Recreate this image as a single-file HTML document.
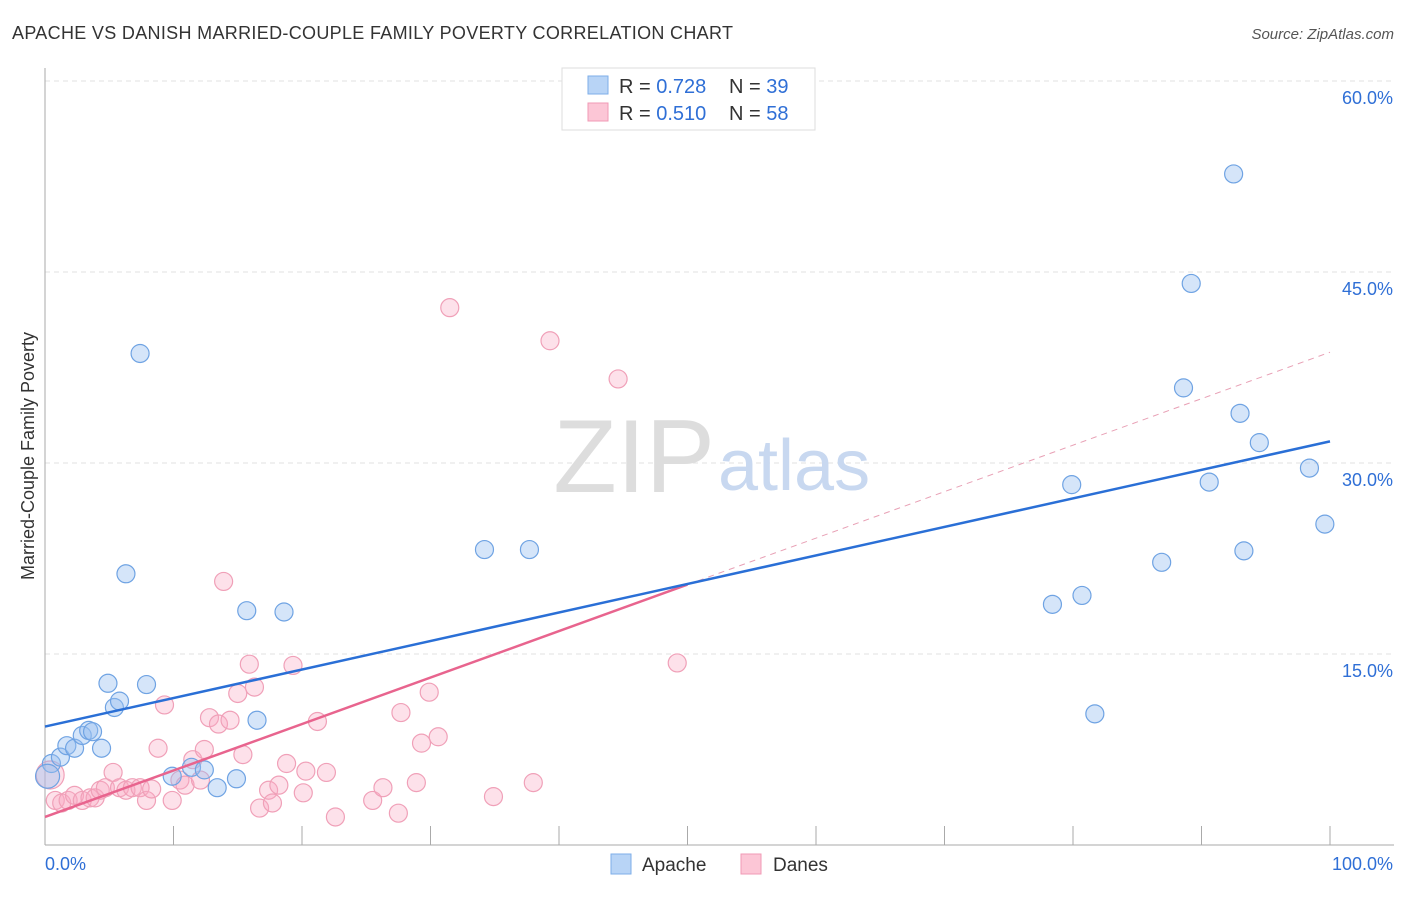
<!DOCTYPE html>
<html><head><meta charset="utf-8"><style>
body{margin:0;background:#fff;font-family:"Liberation Sans",sans-serif;}
svg text{font-family:"Liberation Sans",sans-serif;}
</style></head><body>
<svg width="1406" height="892" id="chart">
<text x="12" y="39" font-size="18" fill="#333" textLength="721">APACHE VS DANISH MARRIED-COUPLE FAMILY POVERTY CORRELATION CHART</text>
<text x="1394" y="39" font-size="15" fill="#555" font-style="italic" text-anchor="end">Source: ZipAtlas.com</text>
<text x="34" y="456" font-size="18" fill="#333" text-anchor="middle" transform="rotate(-90 34 456)">Married-Couple Family Poverty</text>
<g id="grid"></g>
<text x="715" y="492" font-size="104" fill="#ddd" font-family="Liberation Serif" text-anchor="end">ZIP</text>
<text x="718" y="490" font-size="72" fill="#c8d8f0">atlas</text>
<g id="marks"></g>
<g>
<rect x="562" y="68" width="253" height="62" fill="#fff" stroke="#ddd"/>
<rect x="588" y="76" width="20" height="18" fill="#b8d4f6" stroke="#7eaee8"/>
<rect x="588" y="103" width="20" height="18" fill="#fcc6d6" stroke="#f09ab5"/>
<text x="619" y="93" font-size="20" fill="#333">R = <tspan fill="#2f6fd6">0.728</tspan></text>
<text x="729" y="93" font-size="20" fill="#333">N = <tspan fill="#2f6fd6">39</tspan></text>
<text x="619" y="120" font-size="20" fill="#333">R = <tspan fill="#2f6fd6">0.510</tspan></text>
<text x="729" y="120" font-size="20" fill="#333">N = <tspan fill="#2f6fd6">58</tspan></text>
</g>
<g>
<rect x="611" y="854" width="20" height="20" fill="#b8d4f6" stroke="#7eaee8"/>
<text x="642" y="871" font-size="19" fill="#333">Apache</text>
<rect x="741" y="854" width="20" height="20" fill="#fcc6d6" stroke="#f09ab5"/>
<text x="773" y="871" font-size="19" fill="#333">Danes</text>
</g>
</svg>
<script>
const yTicks=[15,30,45,60];
const xTickLabels=["0.0%","100.0%"];
const apacheX=[0.5,1.2,1.7,2.3,2.9,3.4,3.7,4.4,4.9,5.4,5.8,6.3,7.4,7.9,9.9,11.4,12.4,13.4,14.9,15.7,16.5,18.6,34.2,37.7,78.4,79.9,80.7,81.7,86.9,88.6,89.2,90.6,92.5,93.0,93.3,94.5,98.4,99.6,0.2];
const apacheY=[6.4,6.9,7.8,7.6,8.6,9.0,8.9,7.6,12.7,10.8,11.3,21.3,38.6,12.6,5.4,6.1,5.9,4.5,5.2,18.4,9.8,18.3,23.2,23.2,18.9,28.3,19.6,10.3,22.2,35.9,44.1,28.5,52.7,33.9,23.1,31.6,29.6,25.2,5.4];
const danesX=[0.4,0.8,1.3,1.8,2.3,2.9,3.5,3.9,4.3,4.7,5.3,5.8,6.3,6.8,7.4,7.9,8.3,8.8,9.3,9.9,10.5,10.9,11.5,12.1,12.4,12.8,13.5,13.9,14.4,15.0,15.4,15.9,16.3,16.7,17.4,17.7,18.2,18.8,19.3,20.1,20.3,21.2,21.9,22.6,25.5,26.3,27.5,27.7,28.9,29.3,29.9,30.6,31.5,34.9,38.0,39.3,44.6,49.2];
const danesY=[5.5,3.5,3.3,3.5,3.9,3.5,3.7,3.7,4.3,4.5,5.7,4.5,4.3,4.5,4.5,3.5,4.4,7.6,11.0,3.5,5.1,4.7,6.7,5.1,7.5,10.0,9.5,20.7,9.8,11.9,7.1,14.2,12.4,2.9,4.3,3.3,4.7,6.4,14.1,4.1,5.8,9.7,5.7,2.2,3.5,4.5,2.5,10.4,4.9,8.0,12.0,8.5,42.2,3.8,4.9,39.6,36.6,14.3];
const apacheTrend=[9.3,31.7];
const danesTrend=[2.2,38.7];
const danesSolidEnd=50;
const NS="http://www.w3.org/2000/svg";
const X0=45,X1=1330,Y0=845,PPY=191/15;
const sx=v=>X0+(X1-X0)*v/100;
const sy=v=>Y0-v*PPY;
const grid=document.getElementById('grid'),marks=document.getElementById('marks');
function mk(tag,attrs,parent){const e=document.createElementNS(NS,tag);for(const k in attrs)e.setAttribute(k,attrs[k]);parent.appendChild(e);return e;}
yTicks.forEach(t=>{
 const l=mk('line',{x1:X0,x2:1394,y1:sy(t),y2:sy(t),stroke:'#e2e2e2','stroke-dasharray':'5,4'},grid);
 
 
 const tx=mk('text',{x:1393,y:sy(t)+23,'font-size':18,fill:'#2f6fd6','text-anchor':'end'},grid);
 tx.textContent=t.toFixed(1)+'%';
 
 
});
const ax=mk('line',{x1:X0,x2:X0,y1:68,y2:Y0,stroke:'#aaa'},grid);


const bx=mk('line',{x1:X0,x2:1394,y1:Y0,y2:Y0,stroke:'#aaa'},grid);


for(let i=1;i<=10;i++){const t=mk('line',{x1:sx(i*10),x2:sx(i*10),y1:826,y2:Y0,stroke:'#aaa'},grid);
 
 }
[[0,'start',45],[100,'end',1393]].forEach((d,i)=>{const t=mk('text',{x:d[2],y:870,'font-size':18,fill:'#2f6fd6','text-anchor':d[1]},grid);t.textContent=xTickLabels[i];
 
 });
danesX.forEach((x,i)=>{const c=mk('circle',{cx:sx(x),cy:sy(danesY[i]),r:i==0?14:9,fill:'rgba(248,170,195,0.35)',stroke:'#f0a0b8','stroke-width':1.2},marks);
 
 });
apacheX.forEach((x,i)=>{const c=mk('circle',{cx:sx(x),cy:sy(apacheY[i]),r:i==38?12:9,fill:'rgba(150,190,240,0.4)',stroke:'#6fa3e3','stroke-width':1.2},marks);
 
 });
const dm=danesTrend[0]+(danesTrend[1]-danesTrend[0])*danesSolidEnd/100;
let l1=mk('line',{x1:sx(0),y1:sy(danesTrend[0]),x2:sx(danesSolidEnd),y2:sy(dm),stroke:'#e8648e','stroke-width':2.5},marks);


let l2=mk('line',{x1:sx(danesSolidEnd),y1:sy(dm),x2:sx(100),y2:sy(danesTrend[1]),stroke:'#e8a0b5','stroke-width':1,'stroke-dasharray':'6,5'},marks);


let l3=mk('line',{x1:sx(0),y1:sy(apacheTrend[0]),x2:sx(100),y2:sy(apacheTrend[1]),stroke:'#2a6fd6','stroke-width':2.5},marks);


</script>
</body></html>
